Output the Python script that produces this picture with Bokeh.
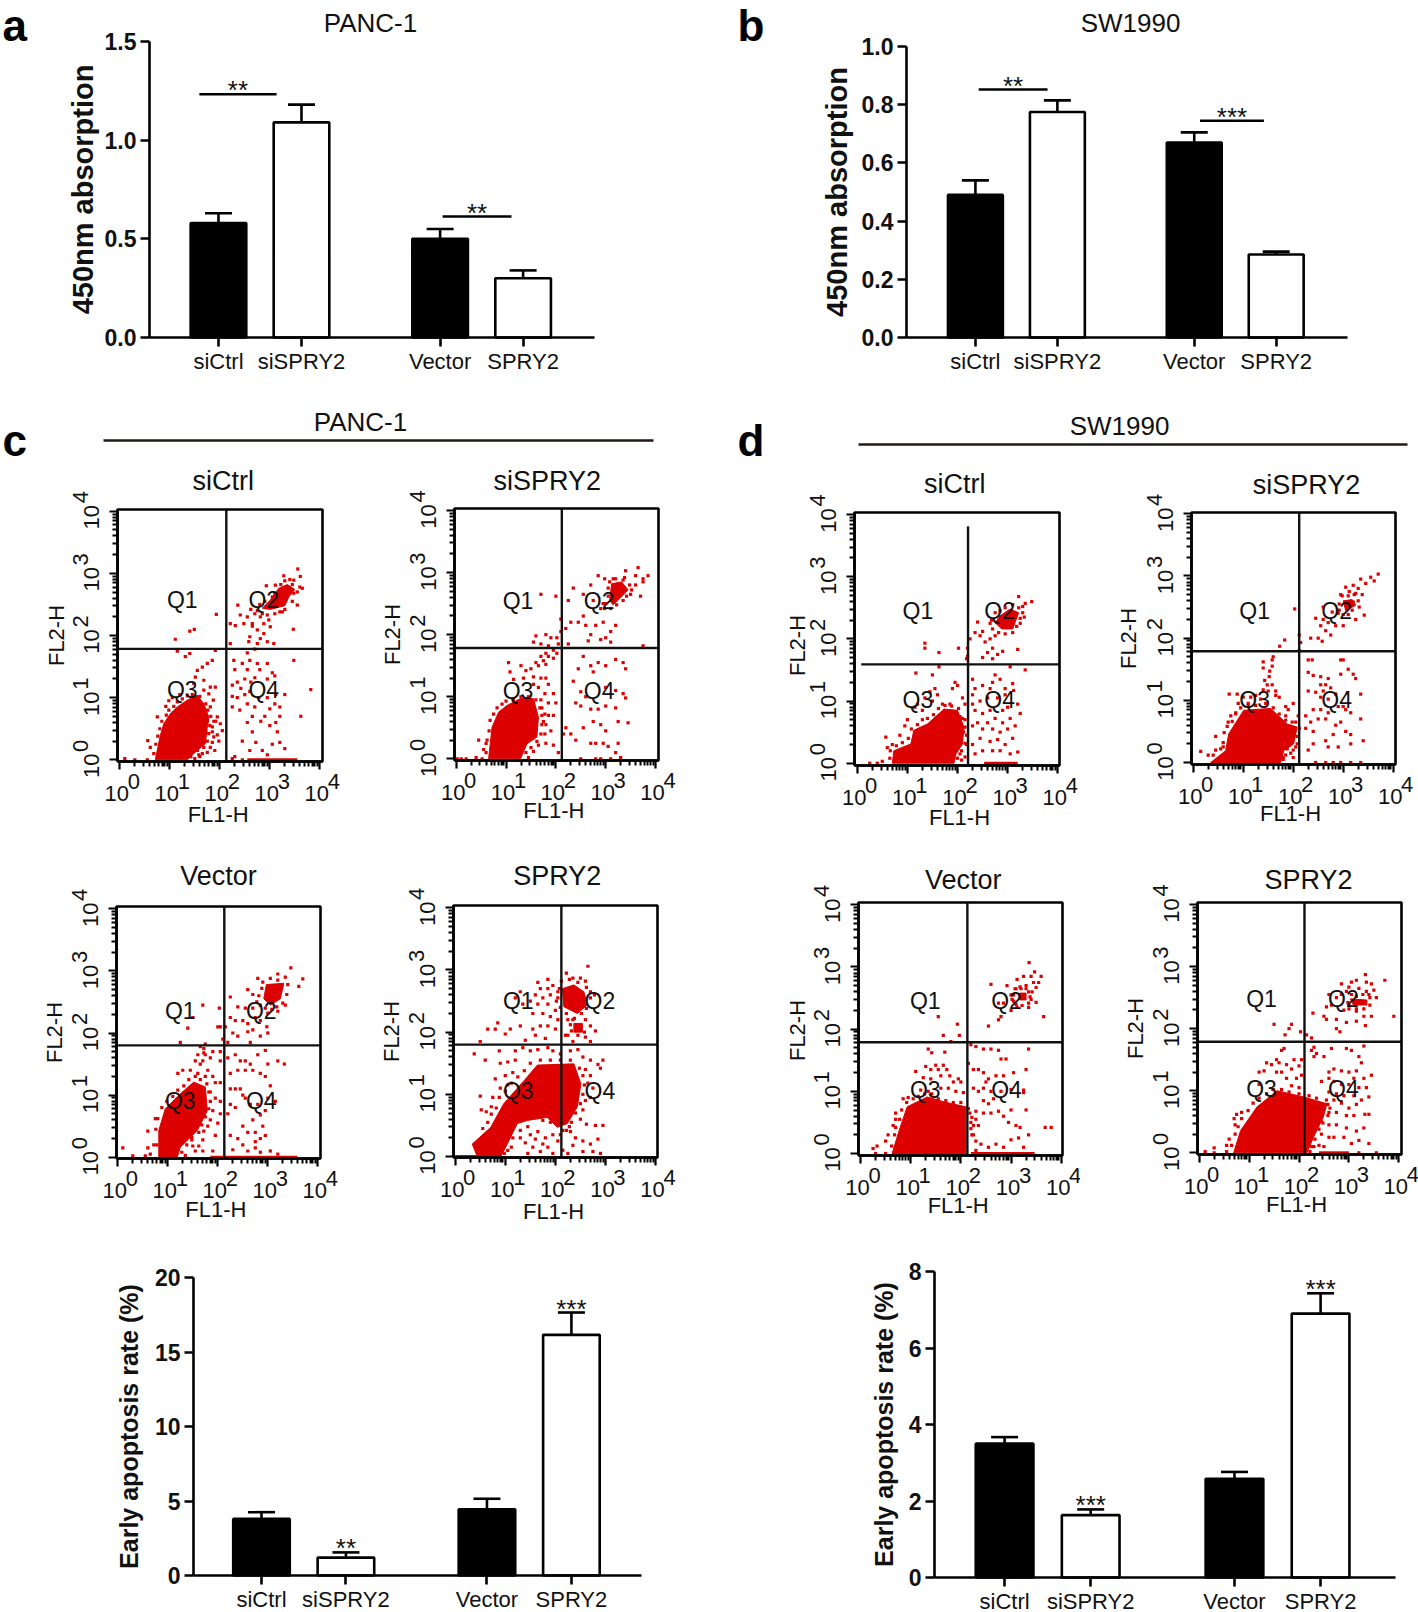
from bokeh.plotting import figure
from bokeh.layouts import row, column
from bokeh.models import Range1d, FixedTicker, Label, Whisker, TeeHead, ColumnDataSource
from bokeh.core.properties import value
from bokeh.embed import file_html
from bokeh.resources import INLINE
import math

FONT = "Liberation Sans"
RED = "#dd0000"
INK = "#111111"

# ---------- bar data ----------
bar_labels = ["siCtrl", "siSPRY2", "Vector", "SPRY2"]
bar_pos = [1, 2, 3.67, 4.67]
a_vals = [0.58, 1.09, 0.50, 0.30]
a_tops = [0.63, 1.18, 0.55, 0.34]
a_sig_x0 = [0.77, 3.70]
a_sig_x1 = [1.70, 4.53]
a_sig_y = [1.233, 0.613]
a_sig_t = ["**", "**"]
a_ticks = [0.0, 0.5, 1.0, 1.5]
b_vals = [0.49, 0.775, 0.67, 0.285]
b_tops = [0.54, 0.815, 0.705, 0.295]
b_sig_x0 = [1.04, 3.74]
b_sig_x1 = [1.88, 4.52]
b_sig_y = [0.852, 0.745]
b_sig_t = ["**", "***"]
b_ticks = [0.0, 0.2, 0.4, 0.6, 0.8, 1.0]
e_vals = [3.8, 1.2, 4.45, 16.15]
e_tops = [4.25, 1.55, 5.15, 17.65]
e_star_x = [2, 4.67]
e_star_y = [1.55, 17.65]
e_star_t = ["**", "***"]
e_ticks = [0, 5, 10, 15, 20]
f_vals = [3.5, 1.63, 2.58, 6.9]
f_tops = [3.67, 1.78, 2.76, 7.43]
f_star_x = [2, 4.67]
f_star_y = [1.78, 7.43]
f_star_t = ["***", "***"]
f_ticks = [0, 2, 4, 6, 8]

# ---------- flow data: all in decades (log10 of FL1-H, FL2-H) ----------
c1_blob_x = [.71,.81,.88,1.01,1.15,1.35,1.55,1.68,1.78,1.75,1.71,1.48,1.35]
c1_blob_y = [0,.39,.58,.74,.85,.96,1.04,.90,.69,.53,.26,.10,0]
c1_q2_x = [2.85,3.01,3.18,3.35,3.5,3.38,3.3,3.01]
c1_q2_y = [2.44,2.57,2.76,2.82,2.74,2.62,2.48,2.42]
c1_rail = [2.55, 3.55]
c1_dots = [(2.21,2.19),(2.31,2.16),(2.48,2.19),(2.65,2.19),(2.36,2.49),(2.41,2.33),(2.81,2.30),(2.88,2.19),(2.98,2.25),(2.75,2.09),(2.88,2.03),(3.01,2.14),(2.81,1.95),(2.95,1.90),(2.75,1.87),(3.47,2.10),(2.21,1.87),(3.08,1.87),(2.58,1.90),(3.56,3.07),(3.28,2.96),(3.61,2.95),(3.48,2.89),(3.55,2.49),(3.25,2.38),(3.11,2.81),(2.93,2.80),(3.65,2.76),(2.65,2.15),(2.70,2.35),(2.55,2.30),(2.60,1.98),
(1.93,2.34),(1.49,2.10),(1.40,2.07),(1.11,1.94),(1.15,1.75),(1.40,1.71),(1.31,1.66),(1.91,1.76),(1.85,1.60),(1.75,1.55),(1.65,1.49),(1.55,1.44),(1.51,1.33),(1.68,1.28),(1.48,1.23),(1.81,1.17),(1.91,1.17),(1.68,1.12),(1.78,1.06),(1.87,.96),(1.81,.85),(1.95,.69),(2.01,.58),(1.85,.53),(2.05,.47),(1.88,.37),(1.81,.20),(.75,.69),(.56,.31),(.61,.2),(.92,.86),(.98,.95),(1.05,1.0),(1.2,1.05),(1.95,.40),(1.98,.30),(1.92,.62),(1.75,.12),(1.60,.05),(.1,.02),(.3,0),(.55,0),
(2.25,.02),(2.3,.05),(2.45,.0),(2.55,.6),(2.45,.3),(2.6,.15),(2.65,.45),(2.72,.28),(2.85,.15),(2.95,.08),(3.05,.25),(3.2,.28),(3.3,.18),(3.15,.45),(3.0,.55),(2.82,.62),(2.9,.7),(3.12,.6),(3.2,.7),(2.65,.7),(2.4,.8),(2.25,.85),(2.55,.9),(2.7,.85),(3.0,.82),(3.1,.9),(3.2,.85),(3.62,.7),(2.35,1.0),(2.5,1.05),(2.42,1.15),(2.6,1.1),(2.78,1.0),(2.95,1.0),(3.12,1.05),(3.3,1.05),(2.25,1.2),(2.35,1.25),(2.5,1.3),(2.62,1.25),(2.7,1.32),(2.95,1.3),(3.05,1.4),(3.1,1.35),(2.8,1.45),(2.55,1.45),(2.3,1.45),(2.45,1.55),(2.28,1.6),(2.6,1.6),(2.75,1.55),(2.95,1.55),(3.48,1.6),(2.55,1.72),(3.82,1.13),(2.7,1.78),(2.25,1.02),
(.68,.1),(.72,.25),(.76,.38),(.8,.5),(.84,.62),(.93,.72),(.98,.8),(1.08,.86),(1.15,.93),(1.25,.98),(1.35,1.03),(1.45,1.05),(1.6,1.02),(1.72,.9),(1.76,.8),(1.82,.7),(1.8,.55),(1.78,.42),(1.75,.3),(1.68,.2),(1.55,.15),(1.42,.05),(1.5,.02),(1.65,.1),(1.85,.45),(1.88,.62),(1.75,.62),(1.72,.45),(1.58,.08),(1.9,.15),(1.85,.28),
(2.9,2.55),(2.95,2.45),(3.05,2.62),(3.1,2.68),(3.22,2.82),(3.3,2.88),(3.45,2.82),(3.55,2.7),(3.48,2.68),(3.45,2.55),(3.3,2.42),(3.2,2.38),(3.1,2.35),(2.95,2.33),(2.85,2.35),(2.75,2.4),(2.8,2.5),(3.6,2.78),(3.4,2.9),(2.62,2.42)]

c2_blob_x = [.65,.72,.85,1.02,1.29,1.55,1.65,1.62,1.42,1.29]
c2_blob_y = [0,.51,.75,.86,.97,.97,.67,.35,.24,0]
c2_q2_x = [3.08,3.12,3.32,3.45,3.28,3.15]
c2_q2_y = [2.55,2.82,2.85,2.72,2.58,2.48]
c2_dots = [(3.65,3.08),(3.4,3.03),(3.85,2.95),(3.75,2.9),(3.6,2.95),(3.75,2.85),(3.7,2.62),(3.6,2.8),(2.98,2.9),(2.85,2.95),(2.7,2.8),(2.35,2.75),(2.55,2.65),(2.75,2.55),(2.9,2.42),(2.95,2.5),(2.25,2.55),(2.0,2.62),(1.7,2.65),(2.1,2.25),(2.2,2.1),(2.3,2.2),(2.45,2.2),(2.55,2.3),(2.6,2.15),(2.7,2.0),(2.8,2.15),(2.95,2.2),(3.0,1.95),(3.1,2.05),(3.2,2.15),(2.65,1.9),(2.9,1.92),(3.1,1.88),(3.75,1.82),(2.25,1.85),
(2.1,2.05),(2.02,1.95),(2.05,1.85),(1.9,1.95),(1.8,2.0),(1.6,1.98),(1.55,1.88),(1.7,1.85),(1.85,1.82),(1.95,1.75),(1.8,1.7),(1.7,1.65),(1.85,1.65),(1.95,1.62),(2.02,1.7),(1.75,1.58),(1.6,1.55),(1.65,1.5),(1.8,1.52),(1.5,1.45),(1.4,1.42),(1.3,1.5),(1.05,1.55),(1.08,1.4),(1.15,1.28),(1.35,1.3),(1.55,1.32),(1.7,1.3),(1.8,1.3),(1.55,1.2),(1.65,1.15),(1.85,1.2),(1.95,1.05),(1.78,1.05),(1.7,.95),(1.85,.9),(2.0,.9),(1.95,.7),(1.85,.7),(1.75,.6),(1.9,.45),(1.78,.4),(1.65,.22),(1.8,.25),(1.95,.22),(2.05,.1),(.45,.3),(.6,.25),(.55,.15),(.4,.02),(.2,0),(.02,0),(.1,0),(.52,0),
(2.2,.5),(2.15,.4),(2.3,.4),(2.4,.3),(2.55,.5),(2.7,.25),(2.8,.25),(2.95,.25),(3.05,.2),(3.2,.1),(3.25,.25),(2.75,.6),(2.9,.55),(3.0,.45),(3.25,.6),(3.45,.58),(2.4,.9),(2.5,.85),(2.6,1.0),(2.7,.8),(2.85,.8),(3.0,.85),(3.2,.82),(2.35,1.25),(2.5,1.08),(2.45,1.45),(2.7,1.5),(2.85,1.55),(3.0,1.5),(3.2,1.6),(3.35,1.55),(3.4,1.45),(2.55,1.65),(2.75,1.4),(3.0,1.15),(3.2,1.1),(3.35,1.05),(3.4,.98),(2.5,0),(2.9,0),(3.1,0),(3.3,.02),(2.8,0),
(.6,.1),(.62,.3),(.66,.45),(.68,.62),(.75,.72),(.82,.82),(.92,.88),(1.0,.93),(1.15,.96),(1.3,1.0),(1.45,1.0),(1.6,.95),(1.68,.82),(1.72,.7),(1.72,.55),(1.7,.4),(1.62,.28),(1.5,.18),(1.4,.1),(1.45,.02),(1.72,.82),(1.78,.72),(1.8,.55),(1.55,.12),
(3.0,2.5),(3.05,2.62),(3.05,2.75),(3.08,2.85),(3.2,2.9),(3.35,2.88),(3.48,2.8),(3.52,2.72),(3.42,2.62),(3.35,2.55),(3.22,2.48),(3.1,2.42),(2.98,2.42),(3.5,2.65),(3.38,2.92),(3.15,2.9)]

c3_blob_x = [.82,.82,.95,1.25,1.52,1.75,1.79,1.59,1.25,1.19]
c3_blob_y = [0,.43,.78,1.02,1.21,1.13,.75,.43,.16,0]
c3_q2_x = [2.92,2.97,3.32,3.25,3.05]
c3_q2_y = [2.55,2.78,2.8,2.55,2.45]
c3_rail = [1.85, 3.59]
c3_dots = [(3.46,3.05),(3.7,2.87),(3.62,2.75),(3.2,2.95),(2.8,2.88),(2.6,2.7),(2.7,2.62),(3.35,2.45),(3.2,2.35),(2.25,2.58),(2.4,2.42),(2.55,2.4),(2.7,2.4),(2.25,2.25),(2.35,2.2),(2.5,2.2),(2.6,2.15),(2.75,2.25),(2.85,2.2),(2.98,2.1),(3.0,2.0),(2.15,2.1),(2.05,2.1),(2.3,2.0),(2.4,1.95),(2.6,2.02),(2.7,2.05),(2.85,1.95),(2.1,1.9),(2.0,2.1),(2.65,1.85),(2.2,1.85),
(1.7,2.45),(2.03,2.4),(1.5,2.25),(1.4,2.08),(1.25,1.85),(1.75,1.82),(1.72,1.75),(1.65,1.78),(1.72,1.68),(1.6,1.65),(1.75,1.65),(1.9,1.7),(2.05,1.7),(1.55,1.55),(1.65,1.5),(1.7,1.55),(1.85,1.6),(2.05,1.55),(1.45,1.4),(1.3,1.4),(1.2,1.35),(1.6,1.35),(1.8,1.4),(1.9,1.3),(1.75,1.3),(1.95,1.2),(2.05,1.2),(1.85,1.05),(1.95,.95),(2.05,.9),(1.9,.75),(2.05,.7),(1.85,.6),(2.0,.55),(1.8,.5),(1.95,.35),(1.7,.28),(1.5,.18),(1.55,.1),(1.7,.1),(1.9,.1),(.6,.42),(.75,.62),(.6,.15),(.72,.2),(.65,.05),(.1,.15),(.3,.02),(.55,.02),
(2.2,1.6),(2.35,1.65),(2.45,1.55),(2.55,1.55),(2.65,1.5),(2.8,1.65),(2.95,1.72),(3.0,1.5),(3.2,1.55),(3.33,1.5),(2.25,1.35),(2.4,1.4),(2.55,1.4),(2.7,1.4),(2.85,1.35),(2.95,1.3),(3.05,1.15),(3.15,.9),(3.0,.95),(2.25,1.1),(2.35,1.1),(2.45,1.1),(2.5,1.0),(2.55,.95),(2.25,.85),(2.35,.8),(2.2,.7),(2.65,.85),(2.8,.85),(2.95,.75),(2.85,.68),(2.7,.6),(2.5,.5),(2.6,.4),(2.75,.4),(2.9,.5),(2.95,.35),(2.85,.3),(2.75,.25),(2.25,.35),(2.4,.3),(2.5,.2),(2.3,.12),(2.6,.1),(2.75,.15),(2.85,.08),(3.05,.1),(3.2,.05),
(.78,.2),(.76,.45),(.8,.62),(.88,.8),(.98,.9),(1.1,.98),(1.2,1.08),(1.32,1.15),(1.42,1.25),(1.55,1.3),(1.65,1.25),(1.78,1.18),(1.82,1.05),(1.85,.9),(1.82,.78),(1.75,.65),(1.68,.52),(1.62,.4),(1.48,.32),(1.38,.2),(1.28,.08),(1.35,.03),(1.48,.28),(1.62,.18),(1.72,.42),
(2.85,2.45),(2.82,2.6),(2.88,2.72),(2.9,2.82),(3.05,2.88),(3.2,2.85),(3.35,2.9),(3.4,2.78),(3.38,2.62),(3.3,2.48),(3.18,2.42),(3.08,2.38),(2.95,2.4),(3.0,2.32),(2.78,2.5)]

c4_blob_x = [.44,.34,.71,.97,1.44,1.64,2.37,2.51,2.44,2.24,2.04,1.84,1.44,1.24,1.04,.91]
c4_blob_y = [0,.20,.47,.85,1.28,1.47,1.49,1.17,.80,.53,.47,.63,.58,.53,.20,0]
c4_q2_x = [2.14,2.37,2.57,2.64,2.44,2.17]
c4_q2_y = [2.70,2.76,2.65,2.44,2.30,2.41]
c4_q2b_x = [2.37,2.54,2.54,2.37]
c4_q2b_y = [2.0,2.0,2.14,2.14]
c4_rail = [0.0, 0.45]
c4_dots = [(2.65,3.06),(2.22,2.95),(2.35,2.87),(2.5,2.87),(2.6,2.82),(2.78,2.6),(2.7,2.65),(1.85,2.85),(1.65,2.8),(1.7,2.7),(1.85,2.7),(1.95,2.75),(2.05,2.65),(1.6,2.6),(1.75,2.55),(1.9,2.6),(2.02,2.5),(1.3,2.65),(1.2,2.55),(1.35,2.45),(1.5,2.5),(1.65,2.45),(1.85,2.45),(2.0,2.35),(1.75,2.3),(1.55,2.3),(1.9,2.25),(2.05,2.2),(1.7,2.1),(1.85,2.1),(2.0,2.05),(1.55,2.05),(1.3,2.1),(1.1,2.05),(1.0,1.97),(.85,2.15),(.8,2.05),(.65,2.05),(.5,1.85),(2.25,2.2),(2.35,2.2),(2.6,2.2),(2.7,2.1),(2.25,1.95),(2.6,1.92),(2.8,2.02),(2.7,1.85),(2.35,1.85),(2.2,1.95),(1.6,1.95),(1.8,1.9),(1.4,1.87),
(.38,1.65),(.6,1.55),(.88,1.7),(.9,1.5),(1.05,1.52),(1.2,1.7),(1.2,1.55),(1.35,1.75),(1.5,1.7),(1.65,1.72),(1.85,1.75),(1.95,1.7),(2.1,1.65),(2.3,1.7),(2.45,1.72),(2.55,1.6),(2.7,1.55),(2.95,1.55),(2.85,1.48),(2.9,1.42),(2.6,1.4),(2.7,1.3),(2.65,1.18),(2.75,1.1),(2.6,.9),(2.7,.95),(2.55,.75),(2.5,.6),(2.62,.52),(2.8,.5),(2.95,.5),(1.15,1.35),(1.0,1.3),(.8,1.25),(1.05,1.15),(.9,1.1),(.75,.95),(.5,.97),(.52,.75),(.62,.72),(.72,.8),(2.3,.4),(2.4,.3),(2.55,.25),(2.7,.2),(2.85,.28),(2.35,.18),(2.55,.08),(2.75,.08),(2.9,.05),(1.3,.3),(1.5,.35),(1.65,.4),(1.8,.3),(1.95,.35),(2.05,.25),(1.55,.15),(1.7,.08),(1.85,.15),(1.95,.05),(1.45,.05),(2.15,.1),(2.25,.05),(1.4,.22),(1.75,.2),(1.6,.28),
(.55,.45),(.65,.55),(.72,.68),(.82,.78),(.88,.95),(1.0,1.05),(1.12,1.18),(1.25,1.28),(1.38,1.38),(1.5,1.5),(1.7,1.55),(1.9,1.55),(2.1,1.55),(2.3,1.55),(2.48,1.42),(2.55,1.3),(2.58,1.15),(2.55,1.0),(2.5,.85),(2.4,.7),(2.32,.55),(2.22,.42),(2.1,.35),(2.0,.55),(1.9,.55),(1.75,.58),(1.6,.65),(1.45,.48),(1.3,.42),(1.15,.3),(1.05,.1),(.98,.05),(1.12,.15),(2.15,.42),(2.28,.48),
(2.08,2.7),(2.12,2.82),(2.28,2.85),(2.45,2.8),(2.62,2.72),(2.7,2.55),(2.62,2.38),(2.52,2.3),(2.38,2.22),(2.22,2.3),(2.1,2.4),(2.05,2.55),(2.3,2.12),(2.58,2.0),(2.45,1.95),(2.32,2.02)]

d1_blob_x = [.70,.73,1.07,1.13,1.40,1.73,2.0,2.13,2.10,1.97,1.93]
d1_blob_y = [0,.20,.31,.53,.63,.87,.85,.58,.31,.15,0]
d1_q2_x = [2.75,2.85,3.05,3.22,3.1,2.88]
d1_q2_y = [2.26,2.37,2.48,2.42,2.16,2.16]
d1_rail = [2.53, 3.2]
d1_dots = [(3.22,2.68),(3.35,2.57),(3.48,2.6),(3.33,2.35),(3.25,2.25),(2.4,2.27),(2.35,2.1),(2.45,2.05),(2.5,2.12),(2.65,2.0),(2.75,2.05),(2.55,1.95),(2.7,1.85),(2.6,1.78),(2.8,1.75),(2.5,1.7),(2.2,1.72),(2.18,1.68),(2.7,1.68),(3.2,1.83),(3.05,1.55),(2.25,2.0),(2.2,1.85),(2.9,1.8),
(1.35,1.93),(1.35,1.85),(2.02,1.85),(1.63,1.78),(1.63,1.55),(1.17,1.45),(1.5,1.42),(1.95,1.3),(2.0,1.25),(1.9,1.2),(1.55,1.2),(1.45,1.15),(1.6,1.1),(1.35,1.05),(1.5,1.0),(1.2,.95),(1.15,.9),(1.3,.85),(1.7,.95),(1.85,.95),(2.1,1.05),(2.15,.95),(1.0,.7),(.95,.6),(.85,.45),(.57,.42),(.7,.3),(.6,.25),(.5,.03),(.25,0),(.4,0),(2.05,.75),(2.15,.7),(2.12,.5),(2.18,.3),(2.05,.15),(2.15,.1),(1.98,.45),
(2.3,1.35),(2.35,1.2),(2.3,1.1),(2.5,1.25),(2.65,1.2),(2.7,1.3),(2.75,1.42),(2.85,1.35),(2.95,1.2),(3.1,1.28),(3.35,1.5),(3.12,1.17),(2.95,1.1),(2.8,1.05),(2.6,1.05),(2.45,1.0),(2.3,.95),(2.35,.85),(2.5,.8),(2.65,.85),(2.75,.72),(2.9,.85),(3.0,.9),(3.2,.95),(3.25,.8),(3.05,.72),(2.9,.65),(2.6,.65),(2.4,.65),(2.3,.6),(2.5,.55),(2.7,.55),(2.85,.5),(3.0,.55),(3.15,.6),(3.1,.4),(2.95,.3),(2.8,.38),(2.65,.35),(2.45,.4),(2.3,.3),(2.35,.15),(2.5,.2),(2.7,.2),(2.85,.2),(3.05,.15),(3.2,.18),
(.65,.08),(.66,.2),(.78,.28),(.9,.33),(1.02,.4),(1.08,.55),(1.2,.62),(1.3,.7),(1.4,.72),(1.52,.78),(1.62,.88),(1.75,.93),(1.88,.92),(2.02,.88),(2.1,.72),(2.15,.58),(2.18,.45),(2.15,.32),(2.08,.2),(2.0,.08),(1.9,.05),(2.08,.05),
(2.68,2.3),(2.75,2.42),(2.85,2.45),(2.95,2.5),(3.1,2.55),(3.22,2.5),(3.3,2.42),(3.25,2.33),(3.18,2.2),(3.1,2.1),(2.95,2.08),(2.82,2.1),(2.7,2.16),(2.65,2.25),(3.3,2.52)]

d2_blob_x = [.35,.65,.71,1.01,1.55,1.88,2.08,2.01,1.81,1.75]
d2_blob_y = [0,.19,.46,.84,.87,.62,.57,.30,.19,0]
d2_q2_x = [3.0,3.18,3.25,3.05]
d2_q2_y = [2.6,2.62,2.53,2.44]
d2_rail = [.4, 1.2]
d2_dots = [(3.7,3.03),(3.55,2.98),(3.62,2.92),(3.35,2.95),(3.45,2.88),(3.3,2.8),(3.2,2.85),(3.05,2.82),(3.12,2.75),(3.25,2.72),(3.38,2.7),(2.95,2.7),(2.6,2.5),(2.78,2.42),(2.9,2.4),(3.25,2.3),(3.42,2.37),(2.6,2.3),(2.45,2.32),(2.55,2.2),(2.7,2.25),(2.85,2.2),(3.0,2.2),(2.35,2.0),(2.5,2.0),(2.58,1.95),(2.12,2.05),(2.15,1.93),(2.12,1.8),(2.65,2.12),(2.75,2.05),(2.03,2.47),(1.83,1.97),(1.73,1.87),
(1.4,1.62),(1.4,1.52),(1.6,1.7),(1.58,1.65),(1.58,1.55),(1.53,1.47),(1.52,1.38),(1.43,1.32),(1.48,1.25),(1.58,1.25),(1.65,1.15),(1.4,1.17),(1.5,1.15),(1.72,1.05),(1.65,1.08),(.72,1.1),(.88,1.1),(1.0,1.05),(1.15,1.05),(1.25,1.08),(1.35,1.02),(.9,.95),(1.1,.95),(.75,.75),(.85,.8),(.7,.65),(.45,.42),(.6,.25),(.45,.2),(.15,.18),(.3,.12),(1.85,.9),(1.9,.85),(2.0,.95),(2.1,.75),(2.05,.65),(1.85,.75),(2.0,.45),(1.95,.35),(2.05,.25),(1.85,.12),(1.95,.15),(2.0,.08),(1.8,.05),
(2.3,1.65),(2.38,1.65),(2.95,1.65),(3.0,1.65),(3.1,1.5),(3.2,1.42),(3.25,1.35),(2.3,1.45),(2.4,1.4),(2.55,1.38),(2.7,1.35),(2.95,1.42),(2.55,1.25),(2.65,1.25),(2.75,1.2),(2.3,1.15),(2.45,1.13),(2.6,1.15),(2.85,1.1),(3.08,1.12),(3.35,1.1),(2.55,1.05),(2.7,1.02),(2.9,.9),(3.0,.9),(2.4,.85),(2.55,.85),(2.7,.8),(3.05,.85),(3.15,.8),(3.35,.7),(2.25,.75),(2.35,.65),(2.25,.55),(2.4,.5),(2.5,.7),(2.65,.7),(2.85,.6),(2.95,.65),(3.05,.5),(3.15,.45),(2.8,.45),(2.65,.35),(2.4,.3),(2.3,.2),(2.7,.25),(2.9,.25),(3.15,.3),(3.4,.35),(2.45,0),(2.65,0),(2.8,0),(2.95,0),(3.15,0),(3.35,0),
(.4,.12),(.55,.22),(.6,.32),(.62,.48),(.68,.58),(.78,.66),(.85,.78),(.95,.88),(1.1,.92),(1.25,.92),(1.45,.95),(1.6,.88),(1.72,.78),(1.85,.68),(1.98,.65),(2.12,.55),(2.08,.42),(2.08,.3),(2.0,.2),(1.88,.22),(1.8,.08),(1.92,.28),
(2.92,2.55),(2.98,2.68),(3.1,2.68),(3.22,2.7),(3.3,2.6),(3.32,2.5),(3.18,2.45),(3.1,2.38),(3.0,2.38),(2.92,2.45),(3.2,2.58),(3.12,2.52)]

d3_blob_x = [.63,.77,.93,1.33,1.67,2.1,2.1]
d3_blob_y = [0,.37,.75,.91,.83,.75,0]
d3_q2_x = [3.17,3.30,3.30,3.17]
d3_q2_y = [2.47,2.47,2.58,2.58]
d3_rail = [2.2, 3.47]
d3_dots = [(3.36,3.07),(3.47,2.92),(3.4,2.85),(3.6,2.85),(3.55,2.75),(3.45,2.75),(3.25,2.85),(3.12,2.8),(3.3,2.7),(3.5,2.67),(3.1,2.65),(3.0,2.55),(3.2,2.65),(3.35,2.6),(3.4,2.48),(3.05,2.45),(2.92,2.7),(2.6,2.72),(3.35,2.35),(3.5,2.43),(3.65,2.2),(2.75,2.42),(2.85,2.42),(3.0,2.3),(2.8,2.2),(2.75,2.15),(2.55,2.05),
(1.55,2.2),(1.93,2.08),(1.65,1.9),(1.97,1.9),(1.8,1.8),(1.35,1.68),(1.42,1.62),(1.68,1.63),(1.5,1.42),(1.65,1.42),(1.72,1.35),(1.55,1.35),(1.4,1.35),(1.3,1.4),(1.1,1.32),(1.25,1.22),(1.4,1.2),(1.6,1.25),(1.78,1.25),(1.95,1.2),(2.0,1.15),(1.85,1.15),(1.6,1.05),(1.75,1.05),(1.9,1.0),(2.05,.98),(1.2,1.02),(1.35,1.0),(.85,.88),(.95,.9),(.7,.65),(.7,.55),(.65,.45),(.55,.3),(.5,.2),(.33,.12),(.25,.08),(.5,0),(.3,0),
(2.2,1.75),(2.3,1.72),(2.45,1.68),(2.6,1.68),(2.75,1.66),(2.8,1.52),(2.9,1.52),(3.35,1.68),(3.3,1.35),(2.15,1.45),(2.25,1.35),(2.35,1.35),(2.45,1.3),(2.55,1.2),(2.7,1.25),(2.85,1.25),(3.05,1.3),(2.5,1.15),(2.25,1.05),(2.35,1.0),(2.45,1.05),(2.6,1.0),(2.45,.85),(2.55,.8),(2.65,.88),(2.8,1.0),(3.0,1.03),(3.25,1.02),(3.25,.98),(3.0,.7),(3.3,.7),(2.3,.68),(2.45,.65),(2.6,.65),(2.75,.68),(2.85,.6),(2.3,.55),(2.2,.5),(2.35,.45),(2.95,.5),(3.1,.45),(3.18,.42),(2.25,.3),(2.3,.2),(2.4,.15),(2.55,.1),(2.7,.15),(2.85,.1),(3.0,.22),(3.15,.25),(3.25,.1),(3.35,.3),(3.68,.42),(3.8,.42),(2.3,.05),
(.62,.12),(.68,.3),(.7,.42),(.78,.55),(.82,.7),(.92,.82),(1.05,.88),(1.15,.92),(1.28,.96),(1.42,.96),(1.55,.88),(1.7,.85),(1.85,.82),(2.0,.82),(2.15,.72),(2.22,.58),(2.2,.4),(2.22,.3),(2.18,.65),(2.25,.45),
(3.1,2.4),(3.05,2.55),(3.08,2.65),(3.18,2.68),(3.3,2.65),(3.38,2.52),(3.35,2.42),(3.22,2.38),(3.12,2.35),(3.02,2.48),(3.42,2.6)]

d4_blob_x = [.69,.83,1.16,1.56,2.09,2.56,2.49,2.29,2.16]
d4_blob_y = [0,.36,.74,1.0,.90,.79,.58,.25,0]
d4_q2_x = [3.03,3.36,3.36,3.09]
d4_q2_y = [2.48,2.46,2.38,2.38]
d4_rail = [2.4, 3.0]
d4_dots = [(3.33,2.87),(3.72,2.78),(3.15,2.78),(3.35,2.75),(3.05,2.75),(3.45,2.72),(2.85,2.72),(3.0,2.67),(3.2,2.65),(3.35,2.6),(3.5,2.62),(3.4,2.55),(3.55,2.5),(2.6,2.55),(2.85,2.55),(2.95,2.6),(2.75,2.5),(2.55,2.35),(2.65,2.38),(2.9,2.3),(3.0,2.32),(3.15,2.28),(3.3,2.2),(3.45,2.2),(3.9,2.2),(2.28,2.25),(2.5,2.2),(2.55,2.15),(2.75,2.15),(3.15,2.12),(3.33,2.05),(2.75,2.0),(2.95,2.1),(2.82,1.95),
(1.5,2.07),(1.85,2.07),(1.8,2.0),(1.72,1.9),(2.03,1.95),(2.15,1.9),(2.25,1.85),(2.3,1.7),(2.35,1.6),(1.65,1.65),(1.7,1.68),(1.55,1.5),(1.35,1.45),(1.45,1.42),(1.6,1.45),(1.75,1.42),(1.9,1.5),(2.05,1.5),(1.2,1.3),(1.3,1.32),(1.55,1.3),(1.65,1.3),(1.85,1.35),(2.0,1.4),(1.75,1.2),(1.95,1.2),(2.05,1.25),(1.2,1.1),(1.85,1.08),(2.0,1.05),(.75,.62),(.85,.65),(.7,.55),(.72,.45),(.6,.22),(.55,.12),(.3,.08),(.12,.02),(.3,0),(.55,.02),
(2.25,1.65),(2.3,1.55),(2.65,1.68),(2.95,1.68),(3.05,1.65),(3.3,1.72),(3.2,1.55),(3.25,1.45),(3.45,1.25),(2.5,1.55),(2.6,1.3),(2.7,1.35),(2.85,1.32),(3.0,1.3),(3.15,1.32),(3.3,1.2),(3.1,1.2),(2.45,1.15),(2.6,1.2),(2.7,1.15),(2.85,1.1),(3.0,1.1),(3.2,1.05),(3.35,1.05),(2.6,.98),(2.75,.95),(2.9,.92),(3.1,.92),(3.25,.85),(3.4,.9),(2.7,.85),(2.85,.8),(3.0,.72),(3.15,.78),(3.32,.62),(3.4,.62),(2.6,.65),(2.75,.65),(2.95,.6),(3.1,.6),(2.45,.5),(2.6,.45),(2.75,.45),(2.95,.4),(3.15,.35),(3.3,.4),(2.45,.3),(2.6,.25),(2.7,.25),(2.9,.25),(3.05,.15),(3.2,.2),(3.4,.15),(2.5,.1),(2.3,.1),(3.55,0),(3.2,0),
(.65,.12),(.72,.3),(.78,.42),(.85,.55),(.98,.68),(1.08,.8),(1.2,.88),(1.35,.95),(1.48,1.02),(1.65,1.02),(1.8,.98),(2.0,.95),(2.2,.92),(2.35,.88),(2.55,.85),(2.62,.72),(2.58,.6),(2.48,.48),(2.4,.38),(2.32,.22),(2.25,.1),(2.22,.02),(2.58,.78),(2.4,.12),
(2.98,2.42),(3.05,2.55),(3.15,2.52),(3.28,2.55),(3.42,2.5),(3.42,2.38),(3.3,2.32),(3.15,2.32),(3.0,2.38),(3.22,2.42)]

q_names = ["Q1", "Q2", "Q3", "Q4"]
c1_qx, c1_qy = [1.25,2.88,1.25,2.88], [2.57,2.57,1.13,1.13]
c2_qx, c2_qy = [1.24,2.87,1.24,2.87], [2.54,2.54,1.10,1.10]
c3_qx, c3_qy = [1.25,2.87,1.25,2.87], [2.35,2.35,.90,.90]
c4_qx, c4_qy = [1.26,2.89,1.26,2.89], [2.5,2.5,1.06,1.06]
d1_qx, d1_qy = [1.21,2.84,1.21,2.84], [2.44,2.44,1.01,1.01]
d2_qx, d2_qy = [1.23,2.87,1.23,2.87], [2.44,2.44,1.0,1.0]
d3_qx, d3_qy = [1.29,2.91,1.29,2.91], [2.45,2.45,1.02,1.02]
d4_qx, d4_qy = [1.25,2.89,1.25,2.89], [2.48,2.48,1.03,1.03]
gates = dict(c1=(2.13,1.785), c2=(2.12,1.785), c3=(2.13,1.80), c4=(2.12,1.80),
             d1=(2.21,1.59), d2=(2.12,1.79), d3=(2.13,1.79), d4=(2.11,1.79))
decades = [0, 1, 2, 3, 4]


def page_txt(p, box, text, px, py, size=21, style="normal", angle=0, align="center", color=INK):
    """Text placed by page pixel; the frame of every figure fills its whole box."""
    p.add_layout(Label(x=px-box[0], y=box[3]-py, x_units="screen", y_units="screen", text=text, text_font=FONT,
                       text_font_size=f"{size}px", text_font_style=style, angle=angle,
                       text_align=align, text_baseline="middle", text_color=color))


def tick_txt(p, text, x, y, xo, yo, size=22, angle=0):
    p.add_layout(Label(x=x, y=y, x_offset=xo, y_offset=yo, text=text, text_font=FONT, text_font_size=f"{size}px",
                       angle=angle, text_align="center", text_baseline="middle", text_color=INK))


def bars(box, frame, xlim, ymax, vals, tops, ticks, fmt, ylabel, ylab_size, standoff, sig=None, stars=None, letter=None, title=None):
    bx0, by0, bx1, by1 = box
    L, T, R, B = frame
    xu = (R-L)/(xlim[1]-xlim[0]); yu = (B-T)/ymax
    p = figure(width=bx1-bx0, height=by1-by0, output_backend="svg", toolbar_location=None, min_border=0, frame_align=False,
               x_range=Range1d(xlim[0]-(L-bx0)/xu, xlim[1]+(bx1-R)/xu),
               y_range=Range1d(-(by1-B)/yu, ymax+(T-by0)/yu), outline_line_color=None)
    p.grid.visible = False
    ax = p.xaxis[0]; ay = p.yaxis[0]
    ax.fixed_location = 0; ay.fixed_location = xlim[0]
    ax.bounds = tuple(xlim); ay.bounds = (0, ymax)
    ax.ticker = FixedTicker(ticks=bar_pos)
    ax.major_label_overrides = {k: v for k, v in zip(bar_pos, bar_labels)}
    ax.major_label_text_font = FONT; ax.major_label_text_font_size = "22px"
    ax.major_label_text_color = INK; ax.major_label_standoff = 2
    ay.ticker = FixedTicker(ticks=ticks)
    ay.major_label_overrides = {t: fmt % t for t in ticks}
    ay.major_label_text_font = FONT; ay.major_label_text_font_size = "23px"
    ay.major_label_text_font_style = "bold"; ay.major_label_text_color = INK
    ay.major_label_standoff = 4
    ay.axis_label = ylabel; ay.axis_label_text_font = FONT
    ay.axis_label_text_font_size = f"{ylab_size}px"; ay.axis_label_text_font_style = "bold"
    ay.axis_label_text_color = INK; ay.axis_label_standoff = standoff
    for a in (ax, ay):
        a.axis_line_width = 2.6; a.axis_line_color = "black"
        a.major_tick_line_width = 2.6; a.major_tick_line_color = "black"
        a.major_tick_in = 0; a.major_tick_out = 9
        a.minor_tick_line_color = None
    src = ColumnDataSource(dict(x=bar_pos, v=vals, t=tops, c=["black", "white", "black", "white"]))
    p.add_layout(Whisker(source=src, base="x", lower="v", upper="t", line_width=2.6, line_color="black",
                         lower_head=None, upper_head=TeeHead(size=27, line_width=2.6, line_color="black")))
    p.vbar(x="x", top="v", bottom=0, width=0.67, source=src, fill_color="c", line_color="black", line_width=2.6)
    star_style = dict(text_font=value(FONT), text_font_size="26px", text_align="center",
                      text_baseline="middle", y_offset=-4, text_color=INK)
    if sig:
        sx0, sx1, sy, st = sig
        p.segment(sx0, sy, sx1, sy, line_color="black", line_width=2.6)
        p.text([(u+w)/2 for u, w in zip(sx0, sx1)], sy, text=st, **star_style)
    if stars:
        sx, sy, st = stars
        p.text(sx, sy, text=st, **star_style)
    if letter:
        page_txt(p, box, letter[0], letter[1], letter[2], size=44, style="bold", align="left", color="black")
    if title:
        page_txt(p, box, title[0], title[1], title[2], size=26)
    return p


def flow(box, frame, ticks_px, title, title_pos, xlab_pos, ylab_pos, blobs, rail, dots, gate, qx, qy, partial=False):
    bx0, by0, bx1, by1 = box
    L, T, R, B = frame
    x0, x4, y0, y4 = ticks_px
    dx = (x4-x0)/4; dy = (y0-y4)/4
    xs, xe = (L-x0)/dx, (R-x0)/dx
    ys, ye = (y0-B)/dy, (y0-T)/dy
    xst, xen, yst, yen = 10**xs, 10**xe, 10**ys, 10**ye
    p = figure(width=bx1-bx0, height=by1-by0, output_backend="svg", toolbar_location=None, min_border=0, frame_align=False,
               x_axis_type="log", y_axis_type="log", outline_line_color=None,
               x_range=Range1d(10**((bx0-x0)/dx), 10**((bx1-x0)/dx)),
               y_range=Range1d(10**((y0-by1)/dy), 10**((y0-by0)/dy)))
    p.grid.visible = False
    ax = p.xaxis[0]; ay = p.yaxis[0]
    ax.fixed_location = yst; ay.fixed_location = xst
    ax.bounds = (xst, xen); ay.bounds = (yst, yen)
    mins = [m*10**k for k in range(4) for m in range(2, 10)]
    for a in (ax, ay):
        a.ticker = FixedTicker(ticks=[10**k for k in decades], minor_ticks=mins)
        a.major_label_overrides = {10**k: "" for k in decades}
        a.major_label_text_font_size = "1px"
        a.axis_line_width = 2.6; a.axis_line_color = "black"
        a.major_tick_in = 0; a.major_tick_out = 8; a.major_tick_line_width = 2.2; a.major_tick_line_color = "black"
        a.minor_tick_in = 0; a.minor_tick_out = 5; a.minor_tick_line_width = 2; a.minor_tick_line_color = "black"
    for bx, by in blobs:
        p.patch([10**v for v in bx], [10**v for v in by], fill_color=RED, line_color=RED, line_width=1)
    if rail:
        p.line([10**rail[0], 10**rail[1]], [1, 1], line_color=RED, line_width=3)
    p.scatter([10**d[0] for d in dots], [10**d[1] for d in dots], marker="square", size=3.2, fill_color=RED, line_color=None)
    gx, gy = gate
    p.line([10**gx, 10**gx], [yst, 10**3.81 if partial else yen], line_color=INK, line_width=2.4)
    p.line([10**0.08 if partial else xst, xen], [10**gy, 10**gy], line_color=INK, line_width=2.4)
    p.line([xst, xen, xen, xst, xst], [yst, yst, yen, yen, yst], line_color="black", line_width=2.6)
    p.text([10**v for v in qx], [10**v for v in qy], text=q_names, text_font=value(FONT), text_font_size="23px",
           text_align="center", text_baseline="middle", text_color=INK)
    for k in decades:
        tick_txt(p, "10", 10**k, yst, -3, -32)
        tick_txt(p, str(k), 10**k, yst, 14, -20)
        tick_txt(p, "10", xst, 10**k, -26, -6, angle=math.pi/2)
        tick_txt(p, str(k), xst, 10**k, -37, 14, angle=math.pi/2)
    page_txt(p, box, title, title_pos[0], title_pos[1], size=27)
    page_txt(p, box, "FL1-H", xlab_pos[0], xlab_pos[1], size=22)
    page_txt(p, box, "FL2-H", ylab_pos[0], ylab_pos[1], size=22, angle=math.pi/2)
    return p


def header(box, title, tpos, rule, letter):
    x0, y0, x1, y1 = box
    p = figure(width=x1-x0, height=y1-y0, output_backend="svg", toolbar_location=None, min_border=0, frame_align=False,
               x_range=Range1d(x0, x1), y_range=Range1d(y1, y0), outline_line_color=None)
    p.axis.visible = False; p.grid.visible = False
    p.line([rule[0], rule[1]], [rule[2], rule[2]], line_color="#231815", line_width=2.6)
    page_txt(p, box, title, tpos[0], tpos[1], size=26)
    page_txt(p, box, letter[0], letter[1], letter[2], size=44, style="bold", align="left", color="black")
    return p


pa = bars((0, 0, 709, 395), (149, 41, 594, 337), (0.169, 5.53), 1.5, a_vals, a_tops, a_ticks, "%.1f",
          "450nm absorption", 29, 3, sig=(a_sig_x0, a_sig_x1, a_sig_y, a_sig_t), letter=("a", 2, 25), title=("PANC-1", 370, 22))
pb = bars((709, 0, 1418, 395), (906, 46, 1347, 337), (0.159, 5.54), 1.0, b_vals, b_tops, b_ticks, "%.1f",
          "450nm absorption", 29, 6, sig=(b_sig_x0, b_sig_x1, b_sig_y, b_sig_t), letter=("b", 737, 25), title=("SW1990", 1130, 22))

hc = header((0, 395, 709, 466), "PANC-1", (360, 421), (103, 653, 440), ("c", 2, 440))
hd = header((709, 395, 1418, 466), "SW1990", (1119, 425), (858, 1407, 444), ("d", 737, 440))

c1 = flow((0, 466, 345, 830), (117, 509, 322, 761), (119.3, 319.3, 759.3, 510.7), "siCtrl", (222.7, 480), (217.7, 814), (56, 635),
          [(c1_blob_x, c1_blob_y), (c1_q2_x, c1_q2_y)], c1_rail, c1_dots, gates["c1"], c1_qx, c1_qy)
c2 = flow((345, 466, 709, 830), (454, 508, 658, 760), (455.7, 655, 758.3, 510), "siSPRY2", (546.7, 480), (553.3, 810), (391.7, 634),
          [(c2_blob_x, c2_blob_y), (c2_q2_x, c2_q2_y)], None, c2_dots, gates["c2"], c2_qx, c2_qy)
c3 = flow((0, 830, 345, 1225), (116, 906, 320, 1158), (117.3, 317.3, 1156.7, 908.3), "Vector", (218, 875.7), (215.3, 1209), (54, 1032),
          [(c3_blob_x, c3_blob_y), (c3_q2_x, c3_q2_y)], c3_rail, c3_dots, gates["c3"], c3_qx, c3_qy)
c4 = flow((345, 830, 709, 1225), (453, 905, 657, 1157), (454.7, 655, 1156, 907.3), "SPRY2", (556.7, 875.7), (553, 1210.7), (390.7, 1031),
          [(c4_blob_x, c4_blob_y), (c4_q2_x, c4_q2_y), (c4_q2b_x, c4_q2b_y)], c4_rail, c4_dots, gates["c4"], c4_qx, c4_qy)
d1 = flow((709, 466, 1080, 830), (854, 512, 1059, 765), (856.7, 1057.3, 762.7, 514), "siCtrl", (954.3, 483), (959, 816.7), (797.3, 645),
          [(d1_blob_x, d1_blob_y), (d1_q2_x, d1_q2_y)], d1_rail, d1_dots, gates["d1"], d1_qx, d1_qy, partial=True)
d2 = flow((1080, 466, 1418, 830), (1191, 512, 1395, 764), (1192.7, 1392.7, 762, 513.3), "siSPRY2", (1306, 484), (1290, 813), (1128.3, 638),
          [(d2_blob_x, d2_blob_y), (d2_q2_x, d2_q2_y)], d2_rail, d2_dots, gates["d2"], d2_qx, d2_qy)
d3 = flow((709, 830, 1080, 1225), (858, 902, 1062, 1155), (860, 1060.7, 1153, 904.3), "Vector", (962.7, 879), (957.7, 1205), (796.7, 1030),
          [(d3_blob_x, d3_blob_y), (d3_q2_x, d3_q2_y)], d3_rail, d3_dots, gates["d3"], d3_qx, d3_qy)
d4 = flow((1080, 830, 1418, 1225), (1197, 902, 1401, 1154), (1198.7, 1398.3, 1152.3, 904), "SPRY2", (1308, 879), (1296, 1204), (1135, 1028),
          [(d4_blob_x, d4_blob_y), (d4_q2_x, d4_q2_y)], d4_rail, d4_dots, gates["d4"], d4_qx, d4_qy)

pe = bars((0, 1225, 709, 1612), (193, 1277, 641, 1575), (0.195, 5.5), 20, e_vals, e_tops, e_ticks, "%d",
          "Early apoptosis rate (%)", 25, 9, stars=(e_star_x, e_star_y, e_star_t))
pf = bars((709, 1225, 1418, 1612), (934, 1271, 1395, 1577), (0.186, 5.54), 8, f_vals, f_tops, f_ticks, "%d",
          "Early apoptosis rate (%)", 25, 8, stars=(f_star_x, f_star_y, f_star_t))

left = column(pa, hc, row(c1, c2), row(c3, c4), pe)
right = column(pb, hd, row(d1, d2), row(d3, d4), pf)
page = row(left, right)
open("out.html", "w").write(file_html(page, INLINE))
